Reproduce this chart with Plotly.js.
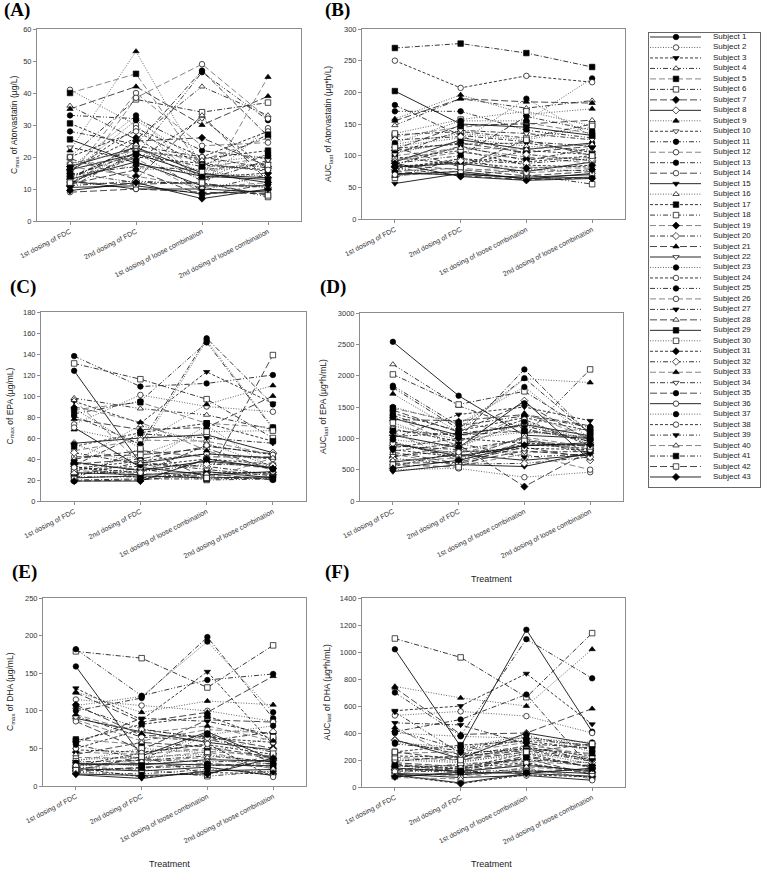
<!DOCTYPE html>
<html><head><meta charset="utf-8">
<script src="https://cdn.plot.ly/plotly-3.0.1.min.js"></script>
<style>html,body{margin:0;padding:0;background:#fff;}#chart{width:764px;height:872px;}</style>
</head><body><div id="chart"></div>
<script>
const categories = ["1st dosing of FDC", "2nd dosing of FDC", "1st dosing of loose combination", "2nd dosing of loose combination"];
const subjects = ["Subject 1","Subject 2","Subject 3","Subject 4","Subject 5","Subject 6","Subject 7","Subject 8","Subject 9","Subject 10",
"Subject 11","Subject 12","Subject 13","Subject 14","Subject 15","Subject 16","Subject 17","Subject 18","Subject 19","Subject 20",
"Subject 21","Subject 22","Subject 23","Subject 24","Subject 25","Subject 26","Subject 27","Subject 28","Subject 29","Subject 30",
"Subject 31","Subject 32","Subject 33","Subject 34","Subject 35","Subject 36","Subject 37","Subject 38","Subject 39","Subject 40",
"Subject 41","Subject 42","Subject 43"];

// (A) Cmax of Atorvastatin (ug/L), one row per subject: [FDC1, FDC2, loose1, loose2]
const cmaxAtorvastatin = [
[17,23,15,12],[41,30,12,29],[12,20,18,15.5],[36,25.5,42,33],[40,46,16.5,20],[20,38,34,37],[11,25,26,17],[16,21,14.5,13.5],
[22,53,17,10],[23,19,32,16],[33,32,22,19.5],[14,40,23.5,24.5],[28,24,47,26.5],[9,10,9,8.5],[13,18.5,11,11],[18.5,16.5,15,14],
[30.5,22,19.5,22],[15,12,12,7.5],[17,14,10.5,12],[13,23.5,20,16.5],[35,42,30,39],[10.5,11,8.5,9.5],[16.5,33,13,21],[15.5,29,20,28],
[12,20.5,46.5,31.5],[10,38.5,49,32],[14.5,17,16,18],[19.5,13,33,12.5],[25.5,18,14,13],[11.5,22.5,15.5,17.5],[16,26,13.5,15],[11,12.5,11.5,10.5],
[17.5,19.5,9,45],[13.5,23,12.5,19],[11.5,16,8,11.5],[12.5,10,10,9],[15,31.5,18,20.5],[20,28,17.5,16],[10.5,21.5,9.5,14.5],[18,22,19,26],
[14,21,17,27],[12,11.5,12,8],[9.5,12,7,10]];

// (B) AUClast of Atorvastatin (ug*h/L)
const aucAtorvastatin = [
[90,125,110,120],[118,135,125,145],[80,95,90,100],[148,190,175,187],[130,145,152,135],[133,138,128,150],[108,120,105,115],[82,88,75,90],
[158,196,165,174],[112,118,120,105],[170,170,140,128],[100,112,98,88],[180,132,122,115],[85,78,68,75],[56,72,64,66],[115,128,115,108],
[98,85,108,102],[65,97,70,55],[92,105,95,97],[125,130,102,92],[155,190,185,183],[72,70,66,70],[105,122,190,130],[95,108,85,82],
[88,100,162,140],[76,80,73,78],[86,115,92,112],[110,148,150,156],[202,150,145,132],[135,157,170,147],[83,90,80,85],[78,92,88,95],
[68,76,82,80],[102,140,135,125],[75,68,62,65],[70,75,63,72],[120,155,155,222],[250,207,226,216],[80,69,78,76],[93,112,110,118],
[270,277,262,240],[113,82,125,100],[88,67,61,64]];

// (C) Cmax of EPA (ug/mL)
const cmaxEPA = [
[124,36,45,41],[73,101,90,85],[95,74,123,93],[98,88,82,68],[87,94,74,70],[131,116,97,60],[35,40,52,45],[55,60,63,46],
[68,55,92,110],[30,33,40,35],[138,109,112,120],[48,58,57,44],[81,54,155,92],[42,44,50,30],[27,25,28,22],[38,72,55,33],
[52,65,74,57],[25,31,20,21],[36,30,37,31],[46,35,33,25],[78,68,70,100],[22,24,22,23],[88,50,153,70],[31,38,45,40],
[83,95,151,69],[29,26,24,26],[34,64,60,55],[40,48,42,42],[37,29,38,32],[28,44,66,67],[33,22,27,27],[26,28,35,34],
[90,75,48,29],[24,37,30,24],[19,20,26,20],[70,32,25,28],[54,34,72,30],[32,27,53,44],[23,23,23,21],[96,36,21,41],
[20,21,21,22],[21,50,22,139],[19,19,40,31]];

// (D) AUClast of EPA (ug*h/mL)
const aucEPA = [
[2540,1680,1050,1000],[500,520,380,460],[1000,1380,1500,1280],[2180,1520,1150,950],[1480,1250,1080,1150],[2020,1540,1750,1100],[700,900,230,800],[1050,850,1600,650],
[1710,1100,1950,1890],[820,700,900,840],[1840,1200,1360,1180],[900,760,1000,780],[1370,1000,2100,1060],[780,600,800,720],[470,580,550,770],[1200,980,1100,1020],
[1400,1120,1330,1120],[950,660,1030,2100],[1100,640,940,830],[880,820,980,760],[1300,1280,1380,1200],[620,740,650,740],[1500,1230,1820,990],[1150,950,1300,880],
[1810,1150,1960,1080],[750,560,750,500],[1030,1080,1200,950],[600,620,860,680],[1320,1050,1220,1040],[1250,880,1250,910],[850,1000,920,880],[680,590,600,700],
[1350,870,1400,1000],[720,800,780,790],[1450,1100,1560,960],[920,720,880,930],[980,860,1260,970],[550,780,840,820],[800,920,700,750],[650,680,1020,860],
[1120,1050,1120,1010],[580,540,960,870],[520,650,890,900]];

// (E) Cmax of DHA (ug/mL)
const cmaxDHA = [
[159,40,72,35],[115,107,100,86],[130,88,152,55],[105,76,62,45],[62,55,46,40],[179,170,131,187],[108,67,66,50],[90,72,58,48],
[125,98,113,108],[48,45,55,42],[182,120,141,149],[88,60,75,70],[100,117,198,90],[86,48,88,85],[15,10,20,22],[35,38,42,31],
[60,82,93,62],[25,22,13,20],[45,42,50,36],[93,65,60,72],[124,85,98,146],[30,28,35,33],[107,119,192,98],[50,75,64,58],
[55,36,70,30],[38,37,45,28],[57,90,86,68],[42,58,52,38],[28,30,28,27],[33,50,44,65],[24,12,18,16],[26,35,32,34],
[95,70,80,60],[32,34,40,32],[20,25,30,25],[23,20,25,14],[31,27,68,80],[27,44,56,12],[18,16,22,18],[22,33,38,23],
[19,24,27,30],[21,39,15,43],[16,14,16,37]];

// (F) AUClast of DHA (ug*h/mL)
const aucDHA = [
[1020,300,1165,410],[530,560,525,400],[565,600,840,465],[420,280,370,300],[220,200,280,250],[1100,960,665,1140],[130,120,170,110],[350,210,400,320],
[745,660,600,1020],[160,140,250,140],[700,380,1095,805],[250,260,330,210],[410,500,685,130],[180,150,210,90],[90,30,100,80],[200,180,260,170],
[260,310,340,280],[120,110,130,70],[150,160,190,160],[345,240,300,200],[735,390,400,580],[100,90,120,100],[400,375,360,330],[230,220,290,230],
[320,270,350,310],[110,80,140,60],[475,460,320,290],[170,130,230,150],[140,115,160,120],[210,190,240,220],[85,25,90,75],[125,170,200,180],
[440,200,310,240],[190,230,270,190],[80,100,110,130],[95,70,85,50],[330,290,385,260],[115,140,180,95],[555,250,280,200],[70,60,150,110],
[160,120,220,150],[260,200,260,320],[75,110,100,140]];

const yTitles = ["C<sub>max</sub> of Atorvastatin (µg/L)", "AUC<sub>last</sub> of Atorvastatin (µg*h/L)",
  "C<sub>max</sub> of EPA (µg/mL)", "AUC<sub>last</sub> of EPA (µg*h/mL)",
  "C<sub>max</sub> of DHA (µg/mL)", "AUC<sub>last</sub> of DHA (µg*h/mL)"];
const panelLabels = ["(A)","(B)","(C)","(D)","(E)","(F)"];
const xTitle = "Treatment";

// ---- styling / layout ----
const W = 764, H = 872;
const FONT = "Arial, 'Liberation Sans', sans-serif";
const symbolCycle = ['circle','circle','triangle-down','triangle-up','square','square','diamond','diamond','triangle-up','triangle-down','circle','circle'];
const filledCycle = [true,false,true,false,true,false,true,false,true,false,true,false];
const dashCycle = ['solid','1px,1.6px','3px,2px','5px,2px,1px,2px,1px,2px','6px,3px','5px,2px,1px,2px','7px,3px'];
const colorCycle = ['#111','#555','#222','#222','#777','#222','#333'];

const panels = [
 {data: cmaxAtorvastatin, ymax: 60, dtick: 10, box: [37,301,29,221], tx: 14, lab: [17,10], xt: null},
 {data: aucAtorvastatin, ymax: 300, dtick: 50, box: [362,625,29,219], tx: 328, lab: [337,10], xt: null},
 {data: cmaxEPA, ymax: 180, dtick: 20, box: [41,306,312,501], tx: 10, lab: [23,287], xt: null},
 {data: aucEPA, ymax: 3000, dtick: 500, box: [360,623,313,501], tx: 323, lab: [333,287], xt: [492,579]},
 {data: cmaxDHA, ymax: 250, dtick: 50, box: [43,306,598,786], tx: 10, lab: [24,572], xt: [169,864]},
 {data: aucDHA, ymax: 1400, dtick: 200, box: [362,625,598,787], tx: 327, lab: [337,572], xt: [492,864]}
];

const px = v => v / W, py = v => 1 - v / H;
const traces = [];
const layout = {
  width: W, height: H, margin: {l:0, r:0, t:0, b:0},
  paper_bgcolor: '#fff', plot_bgcolor: '#fff', showlegend: false,
  font: {family: FONT, color: '#222'}, annotations: []
};

panels.forEach((p, k) => {
  const n = k + 1;
  const xa = n === 1 ? 'x' : 'x' + n, ya = n === 1 ? 'y' : 'y' + n;
  p.data.forEach((row, s) => {
    const filled = filledCycle[s % 12];
    traces.push({
      type: 'scatter', mode: 'lines+markers', x: categories, y: row,
      xaxis: xa, yaxis: ya, name: subjects[s], hoverinfo: 'skip', cliponaxis: false,
      line: {color: colorCycle[s % 7], width: 0.9, dash: dashCycle[s % 7]},
      marker: {symbol: symbolCycle[s % 12], size: 5.5, color: filled ? '#000' : '#fff', line: {color: '#000', width: 0.7}}
    });
  });
  const [x0, x1, y0, y1] = p.box;
  const common = {showline: true, mirror: true, linecolor: '#8c8c8c', linewidth: 1, ticks: 'outside',
    ticklen: 3, tickcolor: '#8c8c8c', showgrid: false, zeroline: false, fixedrange: true};
  layout[n === 1 ? 'xaxis' : 'xaxis' + n] = Object.assign({}, common, {
    type: 'category', categoryarray: categories, range: [-0.5, 3.5], domain: [px(x0), px(x1)],
    anchor: ya, tickangle: -27, tickfont: {size: 7, family: FONT, color: '#333'}
  });
  layout[n === 1 ? 'yaxis' : 'yaxis' + n] = Object.assign({}, common, {
    range: [0, p.ymax], dtick: p.dtick, tick0: 0, domain: [py(y1), py(y0)], anchor: xa,
    tickfont: {size: 7.5, family: FONT, color: '#333'}
  });
  layout.annotations.push({xref: 'paper', yref: 'paper', x: px(p.tx), y: py((y0 + y1) / 2), text: yTitles[k],
    textangle: -90, showarrow: false, xanchor: 'center', yanchor: 'middle', font: {size: 8.5, family: FONT, color: '#222'}});
  layout.annotations.push({xref: 'paper', yref: 'paper', x: px(p.lab[0]), y: py(p.lab[1]), text: panelLabels[k],
    showarrow: false, xanchor: 'center', yanchor: 'middle', font: {size: 19, weight: 'bold', family: "'Liberation Serif', 'Times New Roman', serif", color: '#000'}});
  if (p.xt) layout.annotations.push({xref: 'paper', yref: 'paper', x: px(p.xt[0]), y: py(p.xt[1]), text: xTitle,
    showarrow: false, xanchor: 'center', yanchor: 'middle', font: {size: 9, family: FONT, color: '#222'}});
});

// ---- key (legend) drawn on its own hidden axis ----
const L = {x0: 649, x1: 760, y0: 33, y1: 487, first: 37, step: 10.476};
const topU = 1 - (L.first - L.y0) / L.step;
const botU = topU + (L.y1 - L.y0) / L.step;
layout.xaxis7 = {domain: [px(L.x0), px(L.x1)], range: [0, 1], anchor: 'y7', showline: true, mirror: true,
  linecolor: '#666', linewidth: 1, showticklabels: false, ticks: '', showgrid: false, zeroline: false, fixedrange: true};
layout.yaxis7 = {domain: [py(L.y1), py(L.y0)], range: [botU, topU], anchor: 'x7', showline: true, mirror: true,
  linecolor: '#666', linewidth: 1, showticklabels: false, ticks: '', showgrid: false, zeroline: false, fixedrange: true};
const keyX = [(650 - L.x0) / (L.x1 - L.x0), (676 - L.x0) / (L.x1 - L.x0), (701 - L.x0) / (L.x1 - L.x0)];
subjects.forEach((name, s) => {
  const filled = filledCycle[s % 12];
  traces.push({
    type: 'scatter', mode: 'lines+markers', x: keyX, y: [s + 1, s + 1, s + 1], xaxis: 'x7', yaxis: 'y7', hoverinfo: 'skip',
    line: {color: colorCycle[s % 7], width: 0.9, dash: dashCycle[s % 7]},
    marker: {symbol: symbolCycle[s % 12], size: 5.5, opacity: [0, 1, 0], color: filled ? '#000' : '#fff', line: {color: '#000', width: 0.7}}
  });
});
traces.push({type: 'scatter', mode: 'text', x: subjects.map(() => (713 - L.x0) / (L.x1 - L.x0)), y: subjects.map((_, s) => s + 1),
  text: subjects, textposition: 'middle right', xaxis: 'x7', yaxis: 'y7', hoverinfo: 'skip', cliponaxis: false,
  textfont: {size: 8, family: FONT, color: '#222'}});

Plotly.newPlot('chart', traces, layout, {displayModeBar: false, staticPlot: true});
</script>
</body></html>
